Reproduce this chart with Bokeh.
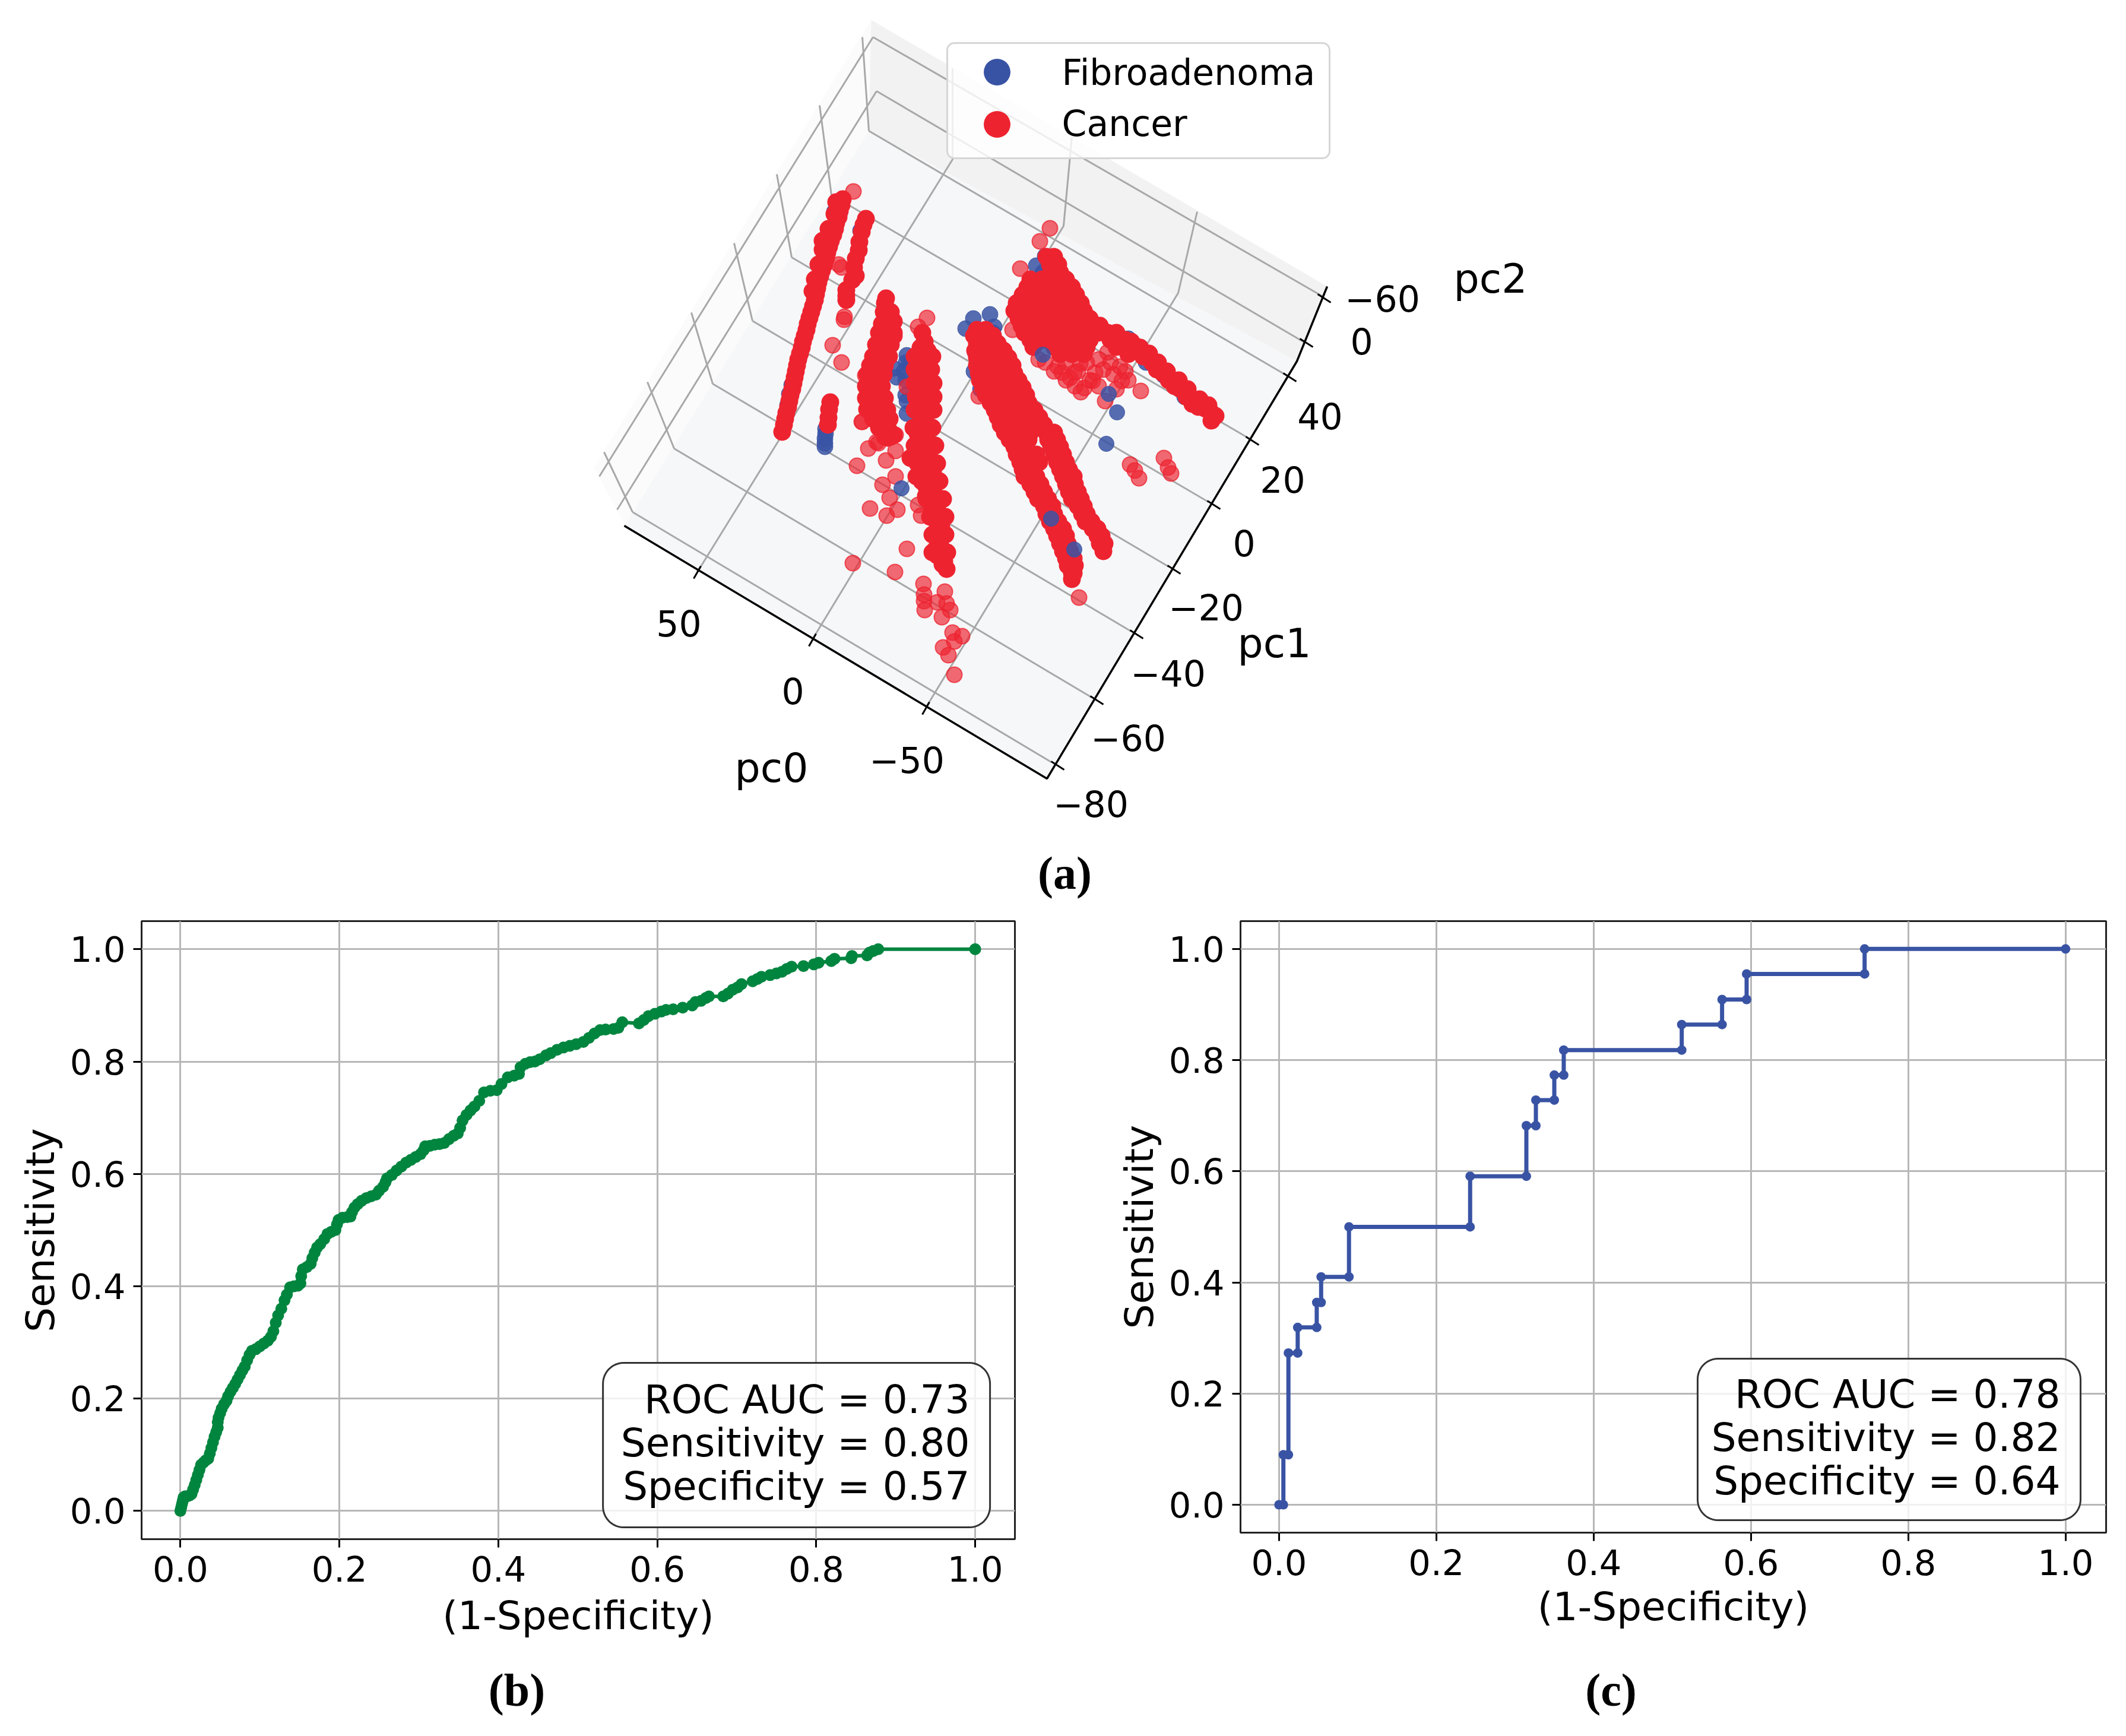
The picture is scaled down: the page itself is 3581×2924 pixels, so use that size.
import math
from bokeh.plotting import figure
from bokeh.layouts import column, row
from bokeh.models import Range1d, FixedTicker, NumeralTickFormatter
from bokeh.core.properties import value
from bokeh.embed import file_html
from bokeh.resources import INLINE

# ---------- panel (a): projected positions (view units) ----------
fibro_under = [(1345,605),(1333,648),(1329,663),(1326,682),(1390,722),(1390,730),(1389,738),(1389,746),(1389,752),
    (1405,356),(1449,388),(1527,598),(1526,610),(1522,625),(1525,640),(1530,615),(1505,620),(1510,635),(1525,665),(1527,675),(1527,696),
    (1626,553),(1639,536),(1667,529),(1674,550),(1672,560),(1642,593),(1661,610),(1651,655),(1640,625),
    (1760,431),(1745,447),(1756,459),(1773,455),(1770,488),(1735,498),(1714,531),(1900,570),(1930,610),(1940,612),(1960,632),(1995,668)]
fibro_top = [(1756,597),(1809,925),(1518,822),(1770,873),(1867,663),(1881,694),(1863,747)]

cancer_sparse = [(1437,322),(1417,450),(1412,445),(1422,533),(1421,538),(1402,581),(1417,610),
    (1561,535),(1546,550),(1457,632),(1451,710),(1476,744),(1508,732),(1527,651),
    (1452,710),(1479,746),(1462,755),(1508,759),(1443,784),(1492,775),(1508,802),(1486,816),(1498,838),(1546,850),(1465,856),(1511,858),
    (1493,868),(1551,868),(1527,924),(1436,948),(1507,963),(1555,983),(1556,1001),(1556,1012),(1557,1027),(1591,996),(1594,1016),(1600,1027),
    (1578,1014),(1586,1039),(1604,1065),(1620,1071),(1607,1080),(1588,1090),(1597,1103),(1607,1136),
    (1817,1006),(1648,667),
    (1781,617),(1802,636),(1826,653),(1819,612),(1844,627),(1865,593),(1886,617),(1889,641),(1858,622),(1840,641),(1788,627),(1749,605),(1809,627),
    (1760,610),(1775,625),(1795,610),(1815,625),(1830,610),(1850,605),(1870,610),(1835,640),(1850,650),(1875,630),(1895,625),(1900,640),(1880,655),(1795,640),(1810,650),(1820,660),
    (1921,658),(1861,675),(1705,555),(1768,384),(1751,406),(1718,452),
    (1903,782),(1911,792),(1918,805),(1960,771),(1967,787),(1972,797)]

cancer_dense = [(1408,340),(1405,360),(1395,385),(1385,405),(1385,420),(1378,445),(1372,470),(1368,490),
    (1458,368),(1454,378),(1451,390),(1447,407),(1446,421),(1441,435),(1438,450),(1441,464),(1435,471),
    (1425,488),(1425,498),(1425,505),(1398,677),(1396,689),(1395,703),(1394,715),
    (1492,502),(1493,522),(1497,541),(1505,541),(1498,560),(1505,565),(1489,574),(1486,593),(1483,612),(1479,632),(1463,627),
    (1476,646),(1460,651),(1476,665),(1467,670),(1460,689),(1479,684),(1486,703),(1473,703),(1492,718),(1495,737),(1505,732),
    (1553,560),(1557,575),(1550,585),(1562,590),(1553,600),(1560,610),(1551,620),(1561,625),(1556,638),(1548,640),
    (1560,650),(1553,660),(1562,668),(1555,678),(1563,690),(1552,695),(1558,705),(1548,715),(1560,720),(1545,730),(1555,738),(1565,745),
    (1550,750),(1560,758),(1565,770),(1553,775),(1562,785),(1571,795),(1558,800),(1568,812),(1560,820),(1572,828),(1575,842),(1570,855),
    (1580,862),(1575,875),(1585,885),(1578,895),(1580,910),(1585,922),(1575,925),(1578,935),(1590,945),(1594,958),(1587,950),
    (1533,771),(1543,802),(1559,835),
    (1910,590),(1925,600),(1940,610),(1948,622),(1958,628),(1968,640),(1978,650),(1988,655),(1998,668),(2008,680),(2018,685),(2030,688),(2040,695),(2047,700),(2040,708),
    (1905,575),(1920,585),(1935,595),(1950,610),(1965,625),(1985,640),(2000,655),(2020,672),(2035,682)]

# rows of the dense strands: view-y, then the view-x values in that row
cancer_rows = [
    (335,[1419]),(345,[1417]),(355,[1414]),(365,[1412]),(375,[1408]),(385,[1406]),(395,[1403]),(405,[1399]),(415,[1396]),(425,[1393]),
    (435,[1391]),(445,[1388]),(455,[1384]),(465,[1381]),(475,[1378]),(485,[1376]),(495,[1374]),(505,[1372]),(515,[1369]),(525,[1366]),
    (535,[1363]),(545,[1360]),(555,[1358]),(565,[1355]),(575,[1352]),(585,[1350]),(595,[1347]),(605,[1344]),(615,[1342]),(625,[1340]),
    (635,[1338]),(645,[1336]),(655,[1334]),(665,[1331]),(675,[1329]),(685,[1327]),(695,[1324]),(705,[1322]),(715,[1320]),(727,[1317]),
    (510,[1490]),(525,[1488,1500]),(545,[1485,1500]),(560,[1480,1495,1505]),(580,[1475,1490,1500]),(600,[1470,1485,1497]),(615,[1465,1480,1490]),
    (630,[1460,1475,1488]),(650,[1458,1472,1485]),(670,[1458,1470,1482,1490]),(690,[1462,1475,1485,1494]),(705,[1470,1485,1498]),(720,[1480,1495]),(735,[1490,1500]),
    (600,[1540,1570]),(622,[1540,1568]),(645,[1540,1572]),(668,[1542,1572]),(690,[1540,1572]),(720,[1538,1570]),(750,[1540,1575]),(780,[1545,1578]),
    (810,[1552,1582]),(840,[1560,1588]),(870,[1566,1592]),(900,[1570,1592]),(930,[1570,1595]),
    (555,[1645,1660]),(565,[1640,1655,1672]),(578,[1645,1662,1680]),(590,[1642,1658,1675,1690]),(602,[1645,1660,1678,1698]),
    (615,[1645,1665,1685,1705]),(628,[1648,1668,1690,1708]),(640,[1650,1672,1692,1715]),(652,[1655,1675,1698,1722]),
    (665,[1660,1680,1702,1728]),(678,[1668,1690,1710,1732]),(690,[1675,1695,1715,1742]),(702,[1680,1700,1722,1750]),
    (715,[1685,1708,1730,1758]),(728,[1692,1712,1735,1762,1775]),(740,[1700,1718,1732,1765,1780]),(752,[1708,1725,1770,1785]),
    (765,[1712,1730,1745,1775,1790]),(778,[1718,1735,1750,1780,1795]),(790,[1722,1740,1785,1800]),(802,[1725,1745,1790,1808]),
    (815,[1735,1752,1795,1810]),(828,[1742,1758,1800,1815]),(840,[1748,1765,1805,1820]),(852,[1758,1772,1815,1825]),
    (865,[1762,1775,1822,1830]),(878,[1768,1782,1828,1838]),(890,[1775,1790,1840,1848]),(902,[1780,1795,1848,1855]),
    (915,[1785,1798,1852,1860]),(928,[1790,1802,1858]),(940,[1795,1808]),(952,[1798,1810]),(965,[1805,1808]),(975,[1805]),
    (432,[1762,1775]),(445,[1768,1782]),(458,[1770,1785]),(470,[1735,1755,1775,1795]),(483,[1730,1750,1770,1790,1805]),
    (496,[1722,1740,1760,1780,1800,1812]),(510,[1712,1730,1750,1770,1790,1810,1820]),(523,[1708,1728,1748,1768,1788,1808,1825]),
    (536,[1715,1735,1755,1775,1795,1815,1835]),(548,[1720,1740,1760,1780,1800,1820,1840,1852]),
    (560,[1725,1745,1765,1785,1805,1825,1850,1865,1880]),(572,[1735,1755,1775,1795,1815,1835,1870,1885,1895]),
    (584,[1740,1775,1795,1810,1830,1880,1900,1915]),(596,[1785,1805,1825,1900,1925])]

# 3D box, view units
pane_floor = [(1463,220),(1052,884),(1763,1311),(2184,608)]
pane_left = [(1467,33),(1000,787),(1052,884),(1463,220)]
pane_back = [(1467,33),(2235,482),(2184,608),(1463,220)]
grid_pc1 = [[(1470,62),(2226,498)],[(1476,153),(2198,577)],[(1463,220),(2167,632)],[(1400,328),(2100,736)],[(1333,433),(2035,845)],
            [(1267,540),(1968,954)],[(1200,646),(1905,1063)],[(1135,755),(1838,1174)],[(1065,862),(1770,1283)]]
grid_wall = [[(1463,220),(1452,62)],[(1400,328),(1380,177)],[(1333,433),(1308,293)],[(1267,540),(1236,409)],[(1200,646),(1164,526)],
             [(1135,755),(1090,643)],[(1065,862),(1017,761)],[(1470,62),(1009,802)],[(1476,153),(1039,858)]]
grid_pc0 = [[(1176,960),(1604,268),(1604,115)],[(1370,1073),(1791,380),(1805,230)],[(1561,1188),(1984,493),(2016,356)]]
axis_lines = [[(1051,885),(1763,1311),(2184,608),(2235,482)]]
pc0_ticks = [(1174,963),(1368,1077),(1559,1192)]
pc1_ticks = [(1781,1289),(1847,1179),(1914,1068),(1977,959),(2044,850),(2109,742),(2172,635)]
pc2_ticks = [(2200,577),(2230,502)]
tick_texts = [("−60",2328,502),("0",2293,574),("40",2223,700),("20",2160,807),("0",2095,914),("−20",2031,1022),("−40",1967,1133),
              ("−60",1900,1242),("−80",1837,1353),("50",1143,1049),("0",1335,1163),("−50",1527,1279)]
axis_texts = [("pc0",1299,1293),("pc1",2146,1083),("pc2",2510,469)]
legend_names = ["Fibroadenoma","Cancer"]

# ---------- panels (b), (c) ----------
roc_b = [(0,0),(.001,.006),(.002,.012),(.003,.018),(.004,.024),(.006,.026),(.009,.026),(.012,.028),(.014,.03),(.016,.038),(.018,.046),(.02,.055),
 (.022,.064),(.024,.073),(.026,.082),(.029,.086),(.032,.09),(.035,.093),(.037,.102),(.039,.112),(.041,.122),(.043,.132),(.045,.14),(.047,.148),
 (.047,.158),(.048,.166),(.05,.174),(.052,.182),(.055,.19),(.058,.196),(.06,.204),(.063,.212),(.066,.219),(.069,.226),(.072,.234),(.075,.242),
 (.078,.25),(.081,.257),(.084,.268),(.087,.278),(.09,.285),(.095,.288),(.1,.293),(.105,.298),(.11,.303),(.114,.31),(.117,.32),(.12,.335),(.123,.348),
 (.127,.36),(.131,.375),(.134,.385),(.138,.398),(.143,.4),(.148,.401),(.151,.405),(.152,.418),(.154,.43),(.159,.434),(.164,.44),(.166,.45),(.169,.46),
 (.172,.469),(.176,.475),(.181,.484),(.185,.493),(.19,.497),(.195,.5),(.197,.51),(.199,.518),(.204,.522),(.21,.523),(.214,.524),(.216,.532),(.219,.54),
 (.223,.546),(.228,.552),(.234,.557),(.24,.56),(.246,.563),(.25,.57),(.255,.577),(.258,.585),(.26,.592),(.266,.598),(.272,.606),(.278,.613),(.284,.62),
 (.29,.625),(.296,.63),(.302,.635),(.306,.642),(.308,.649),(.314,.65),(.32,.652),(.326,.653),(.332,.655),(.338,.662),(.344,.668),(.349,.672),(.352,.682),
 (.355,.695),(.36,.705),(.365,.713),(.37,.72),(.376,.73),(.382,.745),(.39,.748),(.398,.749),(.404,.76),(.412,.772),(.42,.775),(.426,.778),(.428,.79),
 (.434,.796),(.44,.799),(.446,.80),(.452,.804),(.46,.811),(.466,.815),(.474,.821),(.482,.825),(.49,.828),(.498,.831),(.507,.835),(.514,.842),(.521,.85),
 (.528,.856),(.535,.857),(.545,.858),(.551,.86),(.556,.87),(.577,.868),(.583,.874),(.589,.881),(.597,.885),(.605,.889),(.611,.892),(.62,.893),(.632,.896),
 (.644,.9),(.648,.906),(.655,.908),(.661,.913),(.665,.916),(.683,.916),(.689,.921),(.695,.928),(.701,.932),(.706,.938),(.72,.943),(.726,.947),(.731,.951),
 (.742,.954),(.75,.957),(.757,.96),(.763,.965),(.769,.969),(.784,.97),(.797,.973),(.803,.976),(.819,.979),(.823,.983),(.844,.984),(.845,.988),(.864,.989),
 (.867,.994),(.872,.997),(.878,1.0),(1,1)]
roc_c_x = [0,.0056,.0056,.012,.012,.0238,.0238,.048,.048,.0536,.0536,.089,.089,.243,.243,.3145,.3145,.3266,.3266,.35,.35,.362,.362,.512,.512,.5633,.5633,.5945,.5945,.7445,.7445,1.0]
roc_c_y = [0,0,.09,.09,.273,.273,.319,.319,.364,.364,.41,.41,.5,.5,.591,.591,.682,.682,.728,.728,.773,.773,.818,.818,.864,.864,.909,.909,.955,.955,1.0,1.0]
ticks = [0,.2,.4,.6,.8,1.0]
stats_b = ["ROC AUC = 0.73","Sensitivity = 0.80","Specificity = 0.57"]
stats_c = ["ROC AUC = 0.78","Sensitivity = 0.82","Specificity = 0.64"]

BLUE="#3953a4"; RED="#ee2330"; GREEN="#00853f"; SANS=value("DejaVu Sans"); SERIF=value("Liberation Serif")

def rounded(x0,y0,x1,y1,rx,ry):
    xs,ys=[],[]
    for cx,cy,a0 in [(x1-rx,y1-ry,0),(x0+rx,y1-ry,90),(x0+rx,y0+ry,180),(x1-rx,y0+ry,270)]:
        for i in range(13):
            a=math.radians(a0+i*7.5)
            xs.append(cx+rx*math.cos(a)); ys.append(cy+ry*math.sin(a))
    return xs+xs[:1],ys+ys[:1]

def blank(w,h,x0,x1,y0,y1):
    f=figure(width=w,height=h,x_range=Range1d(x0,x1),y_range=Range1d(y0,y1),output_backend="svg",toolbar_location=None,
             x_axis_location=None,y_axis_location=None,min_border=0,outline_line_color=None)
    f.grid.visible=False
    return f

# ---- panel a
a=blank(3565,1530,0,3565,1530,0)
for poly,col in [(pane_left,"#fbfbfb"),(pane_back,"#f2f2f2"),(pane_floor,"#f6f7f8")]:
    a.patch([q[0] for q in poly],[q[1] for q in poly],fill_color=col,line_color=None)
for group in (grid_pc1,grid_wall,grid_pc0):
    a.multi_line([[q[0] for q in l] for l in group],[[q[1] for q in l] for l in group],line_color="#a8a8a8",line_width=3)
a.multi_line([[q[0] for q in l] for l in axis_lines],[[q[1] for q in l] for l in axis_lines],line_color="black",line_width=3.5)
a.segment([t[0]-11 for t in pc1_ticks+pc2_ticks],[t[1]-7 for t in pc1_ticks+pc2_ticks],[t[0]+11 for t in pc1_ticks+pc2_ticks],[t[1]+7 for t in pc1_ticks+pc2_ticks],line_color="black",line_width=3)
a.segment([t[0]-6 for t in pc0_ticks],[t[1]+11 for t in pc0_ticks],[t[0]+6 for t in pc0_ticks],[t[1]-10 for t in pc0_ticks],line_color="black",line_width=3)

dx=[q[0] for q in cancer_dense]; dy=[q[1] for q in cancer_dense]
for yy,xx in cancer_rows:
    dx+=xx; dy+=[yy]*len(xx)
a.scatter([q[0] for q in fibro_under],[q[1] for q in fibro_under],size=27,fill_color=BLUE,fill_alpha=.85,line_color=BLUE,line_alpha=.9,line_width=1)
a.scatter([q[0] for q in cancer_sparse],[q[1] for q in cancer_sparse],size=26,fill_color=RED,fill_alpha=.68,line_color=RED,line_alpha=.75,line_width=2)
a.scatter(dx,dy,size=30,fill_color=RED,line_color=None)
a.scatter([q[0] for q in fibro_top],[q[1] for q in fibro_top],size=26,fill_color=BLUE,fill_alpha=.85,line_color=BLUE,line_alpha=.9,line_width=1)

for txts,size in [(tick_texts,"60px"),(axis_texts,"68px")]:
    a.text([t[1] for t in txts],[t[2] for t in txts],text=[t[0] for t in txts],text_font=SANS,text_font_size=size,
           text_align="center",text_baseline="middle",text_color="black")
lx,ly=rounded(1595,72,2239,266,12,12)
a.patch(lx,ly,fill_color="white",fill_alpha=.8,line_color="#d6d6d6",line_width=3)
a.scatter([1679,1679],[121,209],size=45,fill_color=[BLUE,RED],line_color=None)
a.text([1788,1788],[121,207],text=legend_names,text_font=SANS,text_font_size="60px",text_align="left",text_baseline="middle",text_color="black")
a.text([1793],[1470],text=["(a)"],text_font=SERIF,text_font_style="bold",text_font_size="78px",text_align="center",text_baseline="middle",text_color="black")

# ---- panels b, c
def roc(w,borders,xr,yr,xs,ys,col,lw,ms,stats,box,txt_x,txt_ys,label_off):
    f=figure(width=w,height=1250,x_range=Range1d(*xr),y_range=Range1d(*yr),output_backend="svg",toolbar_location=None,
             min_border_left=borders[0],min_border_right=borders[1],min_border_top=borders[2],min_border_bottom=borders[3],
             outline_line_color="#222222",outline_line_width=3,x_axis_label="(1-Specificity)",y_axis_label="Sensitivity")
    f.frame_align=False
    for ax in (f.xaxis[0],f.yaxis[0]):
        ax.ticker=FixedTicker(ticks=ticks)
        ax.formatter=NumeralTickFormatter(format="0.0")
        ax.major_label_text_font="DejaVu Sans"; ax.major_label_text_font_size="59px"; ax.major_label_text_color="black"
        ax.axis_label_text_font="DejaVu Sans"; ax.axis_label_text_font_size="66px"; ax.axis_label_text_font_style="normal"; ax.axis_label_text_color="black"
        ax.major_tick_out=14; ax.major_tick_in=0; ax.major_tick_line_width=3; ax.major_tick_line_color="black"
        ax.minor_tick_line_color=None; ax.axis_line_color=None
    f.xaxis[0].major_label_standoff=label_off[0]; f.xaxis[0].axis_label_standoff=label_off[1]
    f.yaxis[0].major_label_standoff=13; f.yaxis[0].axis_label_standoff=8
    f.grid.grid_line_color="#b7b7b7"; f.grid.grid_line_width=3; f.grid.ticker=FixedTicker(ticks=ticks)
    f.line(xs,ys,line_color=col,line_width=lw)
    f.scatter(xs,ys,size=ms,fill_color=col,line_color=None)
    bx,by=rounded(*box)
    f.patch(bx,by,fill_color="white",fill_alpha=.8,line_color="#333333",line_width=3)
    f.text([txt_x]*3,txt_ys,text=stats,text_font=SANS,text_font_size="66px",text_align="right",text_baseline="middle",text_color="black")
    return f

b=roc(1790,(238,81,21,188),(-.0488,1.05),(-.0504,1.05),[q[0] for q in roc_b],[q[1] for q in roc_b],GREEN,6,20,stats_b,
      (.5317,-.0293,1.0187,.2635,.026,.037),.9933,[.198,.1208,.0436],(14,16))
c=roc(1775,(299,18,21,199),(-.0489,1.0515),(-.0502,1.05),roc_c_x,roc_c_y,BLUE,7,16,stats_c,
      (.5322,-.0278,1.019,.2628,.026,.037),.9934,[.1987,.1207,.0427],(14,12))

# ---- sub-captions
d=blank(3565,128,0,3565,2908,2780)
d.text([870,2713],[2846,2846],text=["(b)","(c)"],text_font=SERIF,text_font_style="bold",text_font_size="78px",text_align="center",text_baseline="middle",text_color="black")

page=column(a,row(b,c,spacing=0),d,spacing=0)
open("out.html","w").write(file_html(page,INLINE))
